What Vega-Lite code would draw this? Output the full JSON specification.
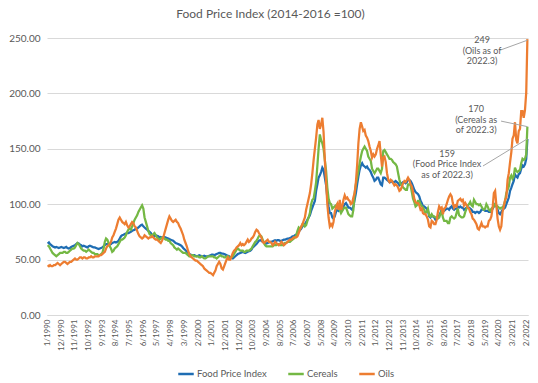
{
  "$schema": "https://vega.github.io/schema/vega-lite/v6.json",
  "width": 481,
  "height": 277,
  "autosize": {"type": "none"},
  "padding": {"left": 47, "top": 38, "right": 10, "bottom": 68},
  "background": "white",
  "config": {
    "font": "Lato",
    "view": {"stroke": null},
    "axisX": {"grid": false, "domainColor": "#d9d9d9", "ticks": false, "labelAngle": -90, "labelFontSize": 8, "labelColor": "#595959", "labelPadding": 4, "labelBound": false, "labelFlush": false, "labelOverlap": false},
    "axisY": {"grid": true, "gridColor": "#d9d9d9", "domain": false, "ticks": false, "labelColor": "#595959", "labelFontSize": 10, "labelPadding": 7}
  },
  "title": {"text": "Food Price Index (2014-2016 =100)", "fontSize": 12, "fontWeight": "normal", "color": "#595959", "font": "Lato", "anchor": "middle", "offset": 12, "dx": -17},
  "data": {"values": [
{"d":"1990-01","f":64.5,"c":63,"o":45},{"d":"1990-02","f":65.5,"c":62,"o":44},{"d":"1990-03","f":64,"c":60,"o":45},{"d":"1990-04","f":63,"c":58,"o":44},{"d":"1990-05","f":62,"c":56,"o":44},{"d":"1990-06","f":61.5,"c":55,"o":45},{"d":"1990-07","f":61,"c":54,"o":45},{"d":"1990-08","f":61.5,"c":53,"o":46},{"d":"1990-09","f":61,"c":54,"o":47},{"d":"1990-10","f":60.5,"c":55,"o":46},{"d":"1990-11","f":61,"c":56,"o":45},{"d":"1990-12","f":61.5,"c":56,"o":46},
{"d":"1991-01","f":61,"c":56,"o":47},{"d":"1991-02","f":60.5,"c":57,"o":48},{"d":"1991-03","f":61,"c":57,"o":48},{"d":"1991-04","f":61.5,"c":56,"o":47},{"d":"1991-05","f":60.5,"c":56,"o":46},{"d":"1991-06","f":60,"c":57,"o":47},{"d":"1991-07","f":60.5,"c":58,"o":48},{"d":"1991-08","f":61.5,"c":59,"o":48},{"d":"1991-09","f":62,"c":60,"o":49},{"d":"1991-10","f":62.5,"c":60,"o":50},{"d":"1991-11","f":63,"c":61,"o":51},{"d":"1991-12","f":64,"c":63,"o":50},
{"d":"1992-01","f":65,"c":65,"o":50},{"d":"1992-02","f":64.5,"c":64,"o":51},{"d":"1992-03","f":63.5,"c":62,"o":52},{"d":"1992-04","f":63,"c":60,"o":52},{"d":"1992-05","f":62,"c":59,"o":51},{"d":"1992-06","f":62.5,"c":58,"o":52},{"d":"1992-07","f":62,"c":58,"o":52},{"d":"1992-08","f":61.5,"c":57,"o":51},{"d":"1992-09","f":61,"c":58,"o":51},{"d":"1992-10","f":62,"c":59,"o":52},{"d":"1992-11","f":62.5,"c":58,"o":52},{"d":"1992-12","f":62,"c":57,"o":53},
{"d":"1993-01","f":61.5,"c":56,"o":52},{"d":"1993-02","f":61,"c":56,"o":52},{"d":"1993-03","f":61,"c":55,"o":53},{"d":"1993-04","f":60.5,"c":55,"o":53},{"d":"1993-05","f":60,"c":55,"o":53},{"d":"1993-06","f":59.5,"c":54,"o":53},{"d":"1993-07","f":60,"c":54,"o":54},{"d":"1993-08","f":60.5,"c":55,"o":54},{"d":"1993-09","f":61,"c":56,"o":55},{"d":"1993-10","f":62,"c":60,"o":56},{"d":"1993-11","f":63,"c":66,"o":57},{"d":"1993-12","f":64,"c":69,"o":60},
{"d":"1994-01","f":64,"c":68,"o":62},{"d":"1994-02","f":63.5,"c":65,"o":63},{"d":"1994-03","f":63.5,"c":62,"o":64},{"d":"1994-04","f":64,"c":60,"o":66},{"d":"1994-05","f":65,"c":57,"o":70},{"d":"1994-06","f":65.5,"c":58,"o":72},{"d":"1994-07","f":66,"c":60,"o":75},{"d":"1994-08","f":65.5,"c":61,"o":78},{"d":"1994-09","f":66,"c":62,"o":82},{"d":"1994-10","f":67,"c":64,"o":86},{"d":"1994-11","f":69,"c":66,"o":88},{"d":"1994-12","f":71,"c":68,"o":86},
{"d":"1995-01","f":72,"c":68,"o":84},{"d":"1995-02","f":72.5,"c":69,"o":83},{"d":"1995-03","f":73,"c":70,"o":82},{"d":"1995-04","f":73.5,"c":72,"o":84},{"d":"1995-05","f":74,"c":75,"o":81},{"d":"1995-06","f":74,"c":77,"o":79},{"d":"1995-07","f":74.5,"c":78,"o":80},{"d":"1995-08","f":75,"c":77,"o":82},{"d":"1995-09","f":76,"c":80,"o":84},{"d":"1995-10","f":76.5,"c":83,"o":83},{"d":"1995-11","f":77,"c":86,"o":80},{"d":"1995-12","f":78,"c":88,"o":79},
{"d":"1996-01","f":78,"c":90,"o":76},{"d":"1996-02","f":79,"c":93,"o":73},{"d":"1996-03","f":80,"c":95,"o":71},{"d":"1996-04","f":81,"c":97,"o":70},{"d":"1996-05","f":81.5,"c":99,"o":69},{"d":"1996-06","f":80,"c":96,"o":70},{"d":"1996-07","f":79,"c":88,"o":72},{"d":"1996-08","f":78,"c":84,"o":71},{"d":"1996-09","f":77,"c":80,"o":70},{"d":"1996-10","f":76,"c":76,"o":69},{"d":"1996-11","f":75,"c":73,"o":70},{"d":"1996-12","f":74,"c":72,"o":70},
{"d":"1997-01","f":72,"c":72,"o":71},{"d":"1997-02","f":71.5,"c":73,"o":70},{"d":"1997-03","f":71,"c":74,"o":69},{"d":"1997-04","f":72,"c":72,"o":68},{"d":"1997-05","f":71.5,"c":70,"o":68},{"d":"1997-06","f":71,"c":69,"o":67},{"d":"1997-07","f":70,"c":68,"o":66},{"d":"1997-08","f":70.5,"c":69,"o":65},{"d":"1997-09","f":70,"c":70,"o":67},{"d":"1997-10","f":70,"c":70,"o":70},{"d":"1997-11","f":70.5,"c":69,"o":74},{"d":"1997-12","f":70,"c":68,"o":78},
{"d":"1998-01","f":69.5,"c":68,"o":82},{"d":"1998-02","f":69,"c":67,"o":86},{"d":"1998-03","f":68.5,"c":67,"o":89},{"d":"1998-04","f":68,"c":65,"o":87},{"d":"1998-05","f":67.5,"c":64,"o":85},{"d":"1998-06","f":67,"c":63,"o":84},{"d":"1998-07","f":66,"c":61,"o":85},{"d":"1998-08","f":65,"c":60,"o":86},{"d":"1998-09","f":64.5,"c":59,"o":84},{"d":"1998-10","f":64,"c":60,"o":83},{"d":"1998-11","f":63.5,"c":59,"o":80},{"d":"1998-12","f":63,"c":58,"o":78},
{"d":"1999-01","f":62,"c":57,"o":75},{"d":"1999-02","f":60.5,"c":56,"o":72},{"d":"1999-03","f":59.5,"c":56,"o":68},{"d":"1999-04","f":58.5,"c":56,"o":65},{"d":"1999-05","f":57,"c":55,"o":62},{"d":"1999-06","f":56,"c":54,"o":58},{"d":"1999-07","f":55,"c":53,"o":55},{"d":"1999-08","f":54.5,"c":53,"o":53},{"d":"1999-09","f":54,"c":54,"o":52},{"d":"1999-10","f":54,"c":54,"o":51},{"d":"1999-11","f":54,"c":53,"o":50},{"d":"1999-12","f":53.5,"c":53,"o":49},
{"d":"2000-01","f":53,"c":53,"o":49},{"d":"2000-02","f":53.5,"c":53,"o":48},{"d":"2000-03","f":54,"c":52,"o":47},{"d":"2000-04","f":53.5,"c":52,"o":46},{"d":"2000-05","f":53,"c":53,"o":45},{"d":"2000-06","f":53,"c":52,"o":44},{"d":"2000-07","f":53.5,"c":51,"o":42},{"d":"2000-08","f":53,"c":51,"o":41},{"d":"2000-09","f":53,"c":52,"o":40},{"d":"2000-10","f":53,"c":53,"o":39},{"d":"2000-11","f":53.5,"c":53,"o":38},{"d":"2000-12","f":54,"c":53,"o":38},
{"d":"2001-01","f":54.5,"c":53,"o":37},{"d":"2001-02","f":54.5,"c":53,"o":36},{"d":"2001-03","f":54,"c":52,"o":38},{"d":"2001-04","f":54.5,"c":52,"o":40},{"d":"2001-05","f":55,"c":51,"o":44},{"d":"2001-06","f":55.5,"c":52,"o":46},{"d":"2001-07","f":56,"c":53,"o":48},{"d":"2001-08","f":56,"c":54,"o":46},{"d":"2001-09","f":55.5,"c":53,"o":42},{"d":"2001-10","f":55.5,"c":53,"o":41},{"d":"2001-11","f":55,"c":52,"o":44},{"d":"2001-12","f":54.5,"c":52,"o":47},
{"d":"2002-01","f":54,"c":53,"o":50},{"d":"2002-02","f":53.5,"c":53,"o":52},{"d":"2002-03","f":53,"c":52,"o":50},{"d":"2002-04","f":52,"c":52,"o":50},{"d":"2002-05","f":51.5,"c":52,"o":53},{"d":"2002-06","f":51,"c":53,"o":56},{"d":"2002-07","f":52,"c":55,"o":58},{"d":"2002-08","f":53,"c":57,"o":59},{"d":"2002-09","f":54,"c":59,"o":61},{"d":"2002-10","f":55,"c":60,"o":62},{"d":"2002-11","f":55.5,"c":59,"o":63},{"d":"2002-12","f":56,"c":58,"o":65},
{"d":"2003-01","f":56.5,"c":58,"o":63},{"d":"2003-02","f":57,"c":58,"o":64},{"d":"2003-03","f":56.5,"c":57,"o":63},{"d":"2003-04","f":56,"c":57,"o":64},{"d":"2003-05","f":56.5,"c":58,"o":66},{"d":"2003-06","f":57,"c":58,"o":68},{"d":"2003-07","f":57.5,"c":58,"o":66},{"d":"2003-08","f":58,"c":59,"o":67},{"d":"2003-09","f":59,"c":60,"o":69},{"d":"2003-10","f":61,"c":62,"o":70},{"d":"2003-11","f":62,"c":64,"o":72},{"d":"2003-12","f":63,"c":66,"o":75},
{"d":"2004-01","f":64,"c":67,"o":77},{"d":"2004-02","f":65.5,"c":69,"o":76},{"d":"2004-03","f":67,"c":71,"o":74},{"d":"2004-04","f":67.5,"c":72,"o":72},{"d":"2004-05","f":67,"c":71,"o":70},{"d":"2004-06","f":66,"c":68,"o":66},{"d":"2004-07","f":65.5,"c":65,"o":65},{"d":"2004-08","f":65,"c":63,"o":66},{"d":"2004-09","f":64.5,"c":62,"o":67},{"d":"2004-10","f":65,"c":62,"o":68},{"d":"2004-11","f":65.5,"c":62,"o":66},{"d":"2004-12","f":66,"c":62,"o":66},
{"d":"2005-01","f":66,"c":62,"o":65},{"d":"2005-02","f":66.5,"c":62,"o":63},{"d":"2005-03","f":67,"c":63,"o":64},{"d":"2005-04","f":67.5,"c":63,"o":66},{"d":"2005-05","f":67,"c":63,"o":65},{"d":"2005-06","f":67.5,"c":64,"o":64},{"d":"2005-07","f":67.5,"c":64,"o":63},{"d":"2005-08","f":67,"c":63,"o":64},{"d":"2005-09","f":67,"c":63,"o":66},{"d":"2005-10","f":67.5,"c":63,"o":65},{"d":"2005-11","f":68,"c":64,"o":63},{"d":"2005-12","f":68,"c":65,"o":64},
{"d":"2006-01","f":68.5,"c":65,"o":65},{"d":"2006-02","f":69,"c":66,"o":66},{"d":"2006-03","f":69,"c":66,"o":67},{"d":"2006-04","f":69.5,"c":66,"o":68},{"d":"2006-05","f":70,"c":67,"o":68},{"d":"2006-06","f":71,"c":68,"o":69},{"d":"2006-07","f":71,"c":69,"o":70},{"d":"2006-08","f":72,"c":70,"o":70},{"d":"2006-09","f":72.5,"c":72,"o":70},{"d":"2006-10","f":74,"c":76,"o":71},{"d":"2006-11","f":75.5,"c":79,"o":74},{"d":"2006-12","f":76.5,"c":78,"o":77},
{"d":"2007-01","f":78,"c":79,"o":80},{"d":"2007-02","f":80,"c":82,"o":82},{"d":"2007-03","f":81,"c":82,"o":85},{"d":"2007-04","f":82,"c":80,"o":88},{"d":"2007-05","f":84,"c":81,"o":95},{"d":"2007-06","f":86,"c":85,"o":100},{"d":"2007-07","f":88,"c":88,"o":105},{"d":"2007-08","f":90,"c":92,"o":110},{"d":"2007-09","f":94,"c":100,"o":118},{"d":"2007-10","f":97,"c":104,"o":128},{"d":"2007-11","f":100,"c":105,"o":140},{"d":"2007-12","f":103,"c":112,"o":150},
{"d":"2008-01","f":112,"c":120,"o":160},{"d":"2008-02","f":118,"c":135,"o":172},{"d":"2008-03","f":124,"c":150,"o":176},{"d":"2008-04","f":126,"c":163,"o":168},{"d":"2008-05","f":129,"c":158,"o":172},{"d":"2008-06","f":133,"c":155,"o":178},{"d":"2008-07","f":131,"c":150,"o":165},{"d":"2008-08","f":124,"c":140,"o":140},{"d":"2008-09","f":117,"c":130,"o":120},{"d":"2008-10","f":106,"c":115,"o":100},{"d":"2008-11","f":98,"c":105,"o":88},{"d":"2008-12","f":92,"c":101,"o":80},
{"d":"2009-01","f":92,"c":100,"o":82},{"d":"2009-02","f":88,"c":96,"o":80},{"d":"2009-03","f":87,"c":97,"o":84},{"d":"2009-04","f":89,"c":98,"o":93},{"d":"2009-05","f":93,"c":99,"o":97},{"d":"2009-06","f":95,"c":100,"o":100},{"d":"2009-07","f":94,"c":97,"o":95},{"d":"2009-08","f":96,"c":95,"o":104},{"d":"2009-09","f":94,"c":92,"o":95},{"d":"2009-10","f":95,"c":94,"o":98},{"d":"2009-11","f":98,"c":96,"o":104},{"d":"2009-12","f":100,"c":97,"o":108},
{"d":"2010-01","f":101,"c":97,"o":105},{"d":"2010-02","f":99,"c":94,"o":106},{"d":"2010-03","f":97,"c":91,"o":104},{"d":"2010-04","f":97,"c":90,"o":103},{"d":"2010-05","f":96,"c":89,"o":100},{"d":"2010-06","f":95,"c":89,"o":101},{"d":"2010-07","f":98,"c":95,"o":106},{"d":"2010-08","f":104,"c":110,"o":110},{"d":"2010-09","f":110,"c":118,"o":120},{"d":"2010-10","f":118,"c":124,"o":135},{"d":"2010-11","f":125,"c":130,"o":155},{"d":"2010-12","f":131,"c":137,"o":168},
{"d":"2011-01","f":135,"c":143,"o":174},{"d":"2011-02","f":137,"c":148,"o":170},{"d":"2011-03","f":135,"c":150,"o":166},{"d":"2011-04","f":134,"c":152,"o":167},{"d":"2011-05","f":133,"c":150,"o":162},{"d":"2011-06","f":134,"c":148,"o":160},{"d":"2011-07","f":132,"c":143,"o":157},{"d":"2011-08","f":131,"c":141,"o":152},{"d":"2011-09","f":129,"c":139,"o":148},{"d":"2011-10","f":126,"c":132,"o":142},{"d":"2011-11","f":124,"c":130,"o":145},{"d":"2011-12","f":121,"c":128,"o":143},
{"d":"2012-01","f":122,"c":130,"o":145},{"d":"2012-02","f":124,"c":132,"o":150},{"d":"2012-03","f":124,"c":132,"o":153},{"d":"2012-04","f":121,"c":130,"o":157},{"d":"2012-05","f":118,"c":128,"o":145},{"d":"2012-06","f":117,"c":132,"o":134},{"d":"2012-07","f":124,"c":148,"o":142},{"d":"2012-08","f":124,"c":149,"o":143},{"d":"2012-09","f":123,"c":147,"o":138},{"d":"2012-10","f":122,"c":145,"o":128},{"d":"2012-11","f":121,"c":143,"o":122},{"d":"2012-12","f":120,"c":141,"o":120},
{"d":"2013-01","f":120,"c":141,"o":122},{"d":"2013-02","f":121,"c":140,"o":121},{"d":"2013-03","f":120,"c":138,"o":119},{"d":"2013-04","f":120,"c":137,"o":117},{"d":"2013-05","f":121,"c":136,"o":118},{"d":"2013-06","f":120,"c":134,"o":117},{"d":"2013-07","f":119,"c":128,"o":115},{"d":"2013-08","f":117,"c":122,"o":112},{"d":"2013-09","f":118,"c":118,"o":113},{"d":"2013-10","f":119,"c":117,"o":116},{"d":"2013-11","f":120,"c":115,"o":119},{"d":"2013-12","f":120,"c":114,"o":121},
{"d":"2014-01","f":119,"c":113,"o":120},{"d":"2014-02","f":120,"c":113,"o":122},{"d":"2014-03","f":122,"c":118,"o":124},{"d":"2014-04","f":122,"c":118,"o":122},{"d":"2014-05","f":121,"c":117,"o":118},{"d":"2014-06","f":119,"c":111,"o":116},{"d":"2014-07","f":116,"c":105,"o":111},{"d":"2014-08","f":113,"c":102,"o":105},{"d":"2014-09","f":111,"c":98,"o":102},{"d":"2014-10","f":110,"c":99,"o":101},{"d":"2014-11","f":109,"c":103,"o":101},{"d":"2014-12","f":107,"c":103,"o":99},
{"d":"2015-01","f":103,"c":100,"o":95},{"d":"2015-02","f":101,"c":98,"o":96},{"d":"2015-03","f":98,"c":97,"o":92},{"d":"2015-04","f":98,"c":95,"o":91},{"d":"2015-05","f":97,"c":92,"o":91},{"d":"2015-06","f":96,"c":93,"o":89},{"d":"2015-07","f":94,"c":96,"o":86},{"d":"2015-08","f":89,"c":90,"o":80},{"d":"2015-09","f":88,"c":89,"o":79},{"d":"2015-10","f":90,"c":91,"o":85},{"d":"2015-11","f":89,"c":89,"o":84},{"d":"2015-12","f":88,"c":89,"o":82},
{"d":"2016-01","f":86,"c":88,"o":82},{"d":"2016-02","f":87,"c":88,"o":86},{"d":"2016-03","f":89,"c":87,"o":93},{"d":"2016-04","f":90,"c":88,"o":98},{"d":"2016-05","f":92,"c":91,"o":96},{"d":"2016-06","f":95,"c":94,"o":97},{"d":"2016-07","f":94,"c":88,"o":91},{"d":"2016-08","f":94,"c":85,"o":96},{"d":"2016-09","f":95,"c":85,"o":97},{"d":"2016-10","f":96,"c":85,"o":100},{"d":"2016-11","f":96,"c":83,"o":104},{"d":"2016-12","f":95,"c":83,"o":107},
{"d":"2017-01","f":97,"c":88,"o":109},{"d":"2017-02","f":98,"c":89,"o":107},{"d":"2017-03","f":96,"c":88,"o":101},{"d":"2017-04","f":95,"c":87,"o":97},{"d":"2017-05","f":96,"c":88,"o":99},{"d":"2017-06","f":96,"c":92,"o":98},{"d":"2017-07","f":98,"c":96,"o":103},{"d":"2017-08","f":97,"c":90,"o":104},{"d":"2017-09","f":98,"c":89,"o":105},{"d":"2017-10","f":97,"c":88,"o":103},{"d":"2017-11","f":97,"c":88,"o":104},{"d":"2017-12","f":95,"c":89,"o":99},
{"d":"2018-01","f":96,"c":93,"o":101},{"d":"2018-02","f":97,"c":96,"o":99},{"d":"2018-03","f":97,"c":99,"o":97},{"d":"2018-04","f":97,"c":100,"o":96},{"d":"2018-05","f":96,"c":102,"o":93},{"d":"2018-06","f":95,"c":99,"o":91},{"d":"2018-07","f":93,"c":98,"o":87},{"d":"2018-08","f":93,"c":104,"o":86},{"d":"2018-09","f":92,"c":102,"o":84},{"d":"2018-10","f":93,"c":100,"o":82},{"d":"2018-11","f":93,"c":100,"o":78},{"d":"2018-12","f":92,"c":99,"o":77},
{"d":"2019-01","f":93,"c":100,"o":80},{"d":"2019-02","f":95,"c":98,"o":83},{"d":"2019-03","f":95,"c":96,"o":80},{"d":"2019-04","f":95,"c":95,"o":80},{"d":"2019-05","f":94,"c":96,"o":79},{"d":"2019-06","f":94,"c":100,"o":80},{"d":"2019-07","f":94,"c":98,"o":80},{"d":"2019-08","f":93,"c":95,"o":85},{"d":"2019-09","f":93,"c":94,"o":86},{"d":"2019-10","f":94,"c":96,"o":89},{"d":"2019-11","f":96,"c":97,"o":97},{"d":"2019-12","f":98,"c":98,"o":110},
{"d":"2020-01","f":100,"c":100,"o":112},{"d":"2020-02","f":98,"c":99,"o":99},{"d":"2020-03","f":95,"c":98,"o":87},{"d":"2020-04","f":92,"c":97,"o":80},{"d":"2020-05","f":91,"c":96,"o":77},{"d":"2020-06","f":93,"c":97,"o":80},{"d":"2020-07","f":95,"c":97,"o":93},{"d":"2020-08","f":96,"c":99,"o":98},{"d":"2020-09","f":97,"c":103,"o":104},{"d":"2020-10","f":100,"c":110,"o":106},{"d":"2020-11","f":103,"c":113,"o":122},{"d":"2020-12","f":106,"c":116,"o":128},
{"d":"2021-01","f":112,"c":124,"o":138},{"d":"2021-02","f":115,"c":126,"o":147},{"d":"2021-03","f":118,"c":123,"o":159},{"d":"2021-04","f":121,"c":125,"o":162},{"d":"2021-05","f":127,"c":133,"o":174},{"d":"2021-06","f":125,"c":130,"o":158},{"d":"2021-07","f":124,"c":129,"o":155},{"d":"2021-08","f":127,"c":130,"o":166},{"d":"2021-09","f":128,"c":131,"o":168},{"d":"2021-10","f":132,"c":137,"o":184},{"d":"2021-11","f":135,"c":141,"o":184},{"d":"2021-12","f":134,"c":140,"o":178},
{"d":"2022-01","f":136,"c":141,"o":185},{"d":"2022-02","f":141,"c":145,"o":201},{"d":"2022-03","f":159,"c":170,"o":249}
  ]},
  "layer": [
    {
      "mark": {"type": "line", "strokeWidth": 2.25},
      "encoding": {
        "x": {"field": "d", "type": "temporal", "title": null,
          "scale": {"type": "utc", "nice": false, "domain": [{"year": 1989, "month": 12, "date": 16, "utc": true}, {"year": 2022, "month": 3, "date": 16, "utc": true}]},
          "axis": {"format": "%-m/%Y", "labelOverlap": false, "tickCount": 60, "labelAngle": -90, "values": [
            {"year":1990,"month":1,"utc":true},{"year":1990,"month":12,"utc":true},{"year":1991,"month":11,"utc":true},{"year":1992,"month":10,"utc":true},{"year":1993,"month":9,"utc":true},{"year":1994,"month":8,"utc":true},{"year":1995,"month":7,"utc":true},{"year":1996,"month":6,"utc":true},{"year":1997,"month":5,"utc":true},{"year":1998,"month":4,"utc":true},{"year":1999,"month":3,"utc":true},{"year":2000,"month":2,"utc":true},{"year":2001,"month":1,"utc":true},{"year":2001,"month":12,"utc":true},{"year":2002,"month":11,"utc":true},{"year":2003,"month":10,"utc":true},{"year":2004,"month":9,"utc":true},{"year":2005,"month":8,"utc":true},{"year":2006,"month":7,"utc":true},{"year":2007,"month":6,"utc":true},{"year":2008,"month":5,"utc":true},{"year":2009,"month":4,"utc":true},{"year":2010,"month":3,"utc":true},{"year":2011,"month":2,"utc":true},{"year":2012,"month":1,"utc":true},{"year":2012,"month":12,"utc":true},{"year":2013,"month":11,"utc":true},{"year":2014,"month":10,"utc":true},{"year":2015,"month":9,"utc":true},{"year":2016,"month":8,"utc":true},{"year":2017,"month":7,"utc":true},{"year":2018,"month":6,"utc":true},{"year":2019,"month":5,"utc":true},{"year":2020,"month":4,"utc":true},{"year":2021,"month":3,"utc":true},{"year":2022,"month":2,"utc":true}
          ]}},
        "y": {"field": "f", "type": "quantitative", "title": null, "scale": {"domain": [0, 250], "nice": false}, "axis": {"values": [0, 50, 100, 150, 200, 250], "format": ".2f"}},
        "color": {"datum": "Food Price Index", "type": "nominal",
          "scale": {"domain": ["Food Price Index", "Cereals", "Oils"], "range": ["#1F6DB3", "#74B844", "#ED7D31"]},
          "legend": {"orient": "none", "legendX": 130, "legendY": 327, "direction": "horizontal", "title": null, "symbolType": "stroke", "symbolStrokeWidth": 2.5, "symbolSize": 240, "labelFontSize": 9.5, "labelColor": "#595959", "columnPadding": 16, "labelOffset": 2}}
      }
    },
    {
      "mark": {"type": "line", "strokeWidth": 2.25},
      "encoding": {
        "x": {"field": "d", "type": "temporal", "title": null},
        "y": {"field": "c", "type": "quantitative", "title": null, "scale": {"domain": [0, 250], "nice": false}},
        "color": {"datum": "Cereals", "type": "nominal"}
      }
    },
    {
      "mark": {"type": "line", "strokeWidth": 2.25},
      "encoding": {
        "x": {"field": "d", "type": "temporal", "title": null},
        "y": {"field": "o", "type": "quantitative", "title": null, "scale": {"domain": [0, 250], "nice": false}},
        "color": {"datum": "Oils", "type": "nominal"}
      }
    },
    {
      "data": {"values": [{}]},
      "mark": {"type": "rule", "color": "#a6a6a6", "strokeWidth": 1},
      "encoding": {
        "x": {"datum": {"year": 2020, "month": 5, "date": 1, "utc": true}, "type": "temporal"},
        "x2": {"datum": {"year": 2022, "month": 3, "date": 1, "utc": true}},
        "y": {"datum": 239, "type": "quantitative", "scale": {"domain": [0, 250], "nice": false}},
        "y2": {"datum": 248}
      }
    },
    {
      "data": {"values": [{}]},
      "mark": {"type": "rule", "color": "#a6a6a6", "strokeWidth": 1},
      "encoding": {
        "x": {"datum": {"year": 2020, "month": 5, "date": 25, "utc": true}, "type": "temporal"},
        "x2": {"datum": {"year": 2022, "month": 3, "date": 1, "utc": true}},
        "y": {"datum": 175, "type": "quantitative", "scale": {"domain": [0, 250], "nice": false}},
        "y2": {"datum": 170}
      }
    },
    {
      "data": {"values": [{}]},
      "mark": {"type": "rule", "color": "#a6a6a6", "strokeWidth": 1},
      "encoding": {
        "x": {"datum": {"year": 2019, "month": 3, "date": 10, "utc": true}, "type": "temporal"},
        "x2": {"datum": {"year": 2022, "month": 3, "date": 1, "utc": true}},
        "y": {"datum": 134.5, "type": "quantitative", "scale": {"domain": [0, 250], "nice": false}},
        "y2": {"datum": 159}
      }
    },
    {
      "data": {"values": [{}]},
      "mark": {"type": "text", "text": ["249", "(Oils as of", "2022.3)"], "align": "center", "baseline": "top", "fontSize": 9, "lineHeight": 10.5, "color": "#595959"},
      "encoding": {
        "x": {"datum": {"year": 2019, "month": 2, "date": 16, "utc": true}, "type": "temporal"},
        "y": {"datum": 251.5, "type": "quantitative", "scale": {"domain": [0, 250], "nice": false}}
      }
    },
    {
      "data": {"values": [{}]},
      "mark": {"type": "text", "text": ["170", "(Cereals as", "of 2022.3)"], "align": "center", "baseline": "top", "fontSize": 9, "lineHeight": 10.5, "color": "#595959"},
      "encoding": {
        "x": {"datum": {"year": 2018, "month": 9, "date": 22, "utc": true}, "type": "temporal"},
        "y": {"datum": 189.5, "type": "quantitative", "scale": {"domain": [0, 250], "nice": false}}
      }
    },
    {
      "data": {"values": [{}]},
      "mark": {"type": "text", "text": ["159", "(Food Price Index", "as of 2022.3)"], "align": "center", "baseline": "top", "fontSize": 9, "lineHeight": 10.5, "color": "#595959"},
      "encoding": {
        "x": {"datum": {"year": 2016, "month": 10, "date": 10, "utc": true}, "type": "temporal"},
        "y": {"datum": 149, "type": "quantitative", "scale": {"domain": [0, 250], "nice": false}}
      }
    }
  ]
}
